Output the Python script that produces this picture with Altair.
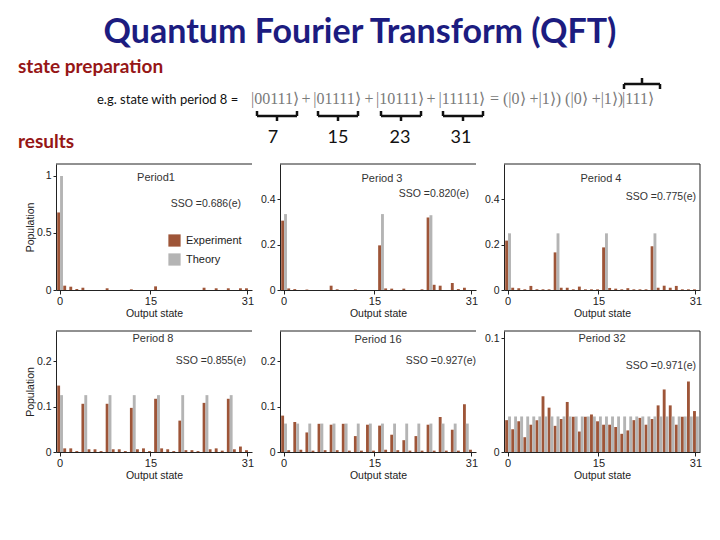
import altair as alt
import pandas as pd

# ---------------- data ----------------
STATES = list(range(32))
SERIES = ["Experiment", "Theory"]

P1_EXP = [0.68, 0.038, 0.029, 0.009, 0.02, 0, 0, 0, 0.015, 0, 0, 0, 0.006, 0, 0, 0,
          0.032, 0, 0, 0, 0, 0, 0, 0, 0.02, 0, 0.015, 0, 0.015, 0, 0.015, 0.015]
P1_TH = [1.0, 0, 0, 0, 0, 0, 0, 0, 0, 0, 0, 0, 0, 0, 0, 0,
         0, 0, 0, 0, 0, 0, 0, 0, 0, 0, 0, 0, 0, 0, 0, 0]

P3_EXP = [0.306, 0.007, 0.004, 0, 0.002, 0, 0, 0, 0.019, 0.003, 0, 0, 0.003, 0, 0, 0,
          0.197, 0.007, 0.006, 0, 0.006, 0, 0, 0.003, 0.32, 0.023, 0.019, 0, 0.031, 0.004, 0.01, 0]
P3_TH = [0.335, 0, 0, 0, 0, 0, 0, 0, 0, 0, 0, 0, 0, 0, 0, 0,
         0.335, 0, 0, 0, 0, 0, 0, 0, 0.33, 0, 0, 0, 0, 0, 0, 0]

P4_EXP = [0.218, 0.01, 0.008, 0.003, 0.018, 0.003, 0.003, 0.003, 0.166, 0.01, 0.01, 0.003, 0.015, 0.003, 0.003, 0.003,
          0.188, 0.009, 0.006, 0.003, 0.008, 0.003, 0.003, 0.003, 0.193, 0.01, 0.019, 0.01, 0.018, 0.003, 0.003, 0.003]
P4_TH = [0.25, 0, 0, 0, 0, 0, 0, 0, 0.25, 0, 0, 0, 0, 0, 0, 0,
         0.25, 0, 0, 0, 0, 0, 0, 0, 0.25, 0, 0, 0, 0, 0, 0, 0]

P8_EXP = [0.146, 0.008, 0.008, 0.002, 0.106, 0.006, 0.006, 0.002, 0.106, 0.006, 0.006, 0.002, 0.097, 0.006, 0.008, 0.002,
          0.117, 0.008, 0.006, 0.002, 0.069, 0.004, 0.004, 0.002, 0.108, 0.006, 0.008, 0.003, 0.117, 0.006, 0.012, 0.004]
P8_TH = [0.125, 0, 0, 0, 0.125, 0, 0, 0, 0.125, 0, 0, 0, 0.125, 0, 0, 0,
         0.125, 0, 0, 0, 0.125, 0, 0, 0, 0.125, 0, 0, 0, 0.125, 0, 0, 0]

P16_EXP = [0.08, 0.004, 0.066, 0.005, 0.043, 0.003, 0.062, 0.004, 0.06, 0.004, 0.062, 0.003, 0.035, 0.003, 0.06, 0.003,
           0.058, 0.005, 0.038, 0.004, 0.026, 0.003, 0.035, 0.003, 0.06, 0.003, 0.077, 0.003, 0.049, 0.003, 0.105, 0.005]
P16_TH = [0.0625, 0, 0.0625, 0, 0.0625, 0, 0.0625, 0, 0.0625, 0, 0.0625, 0, 0.0625, 0, 0.0625, 0,
          0.0625, 0, 0.0625, 0, 0.0625, 0, 0.0625, 0, 0.0625, 0, 0.0625, 0, 0.0625, 0, 0.0625, 0]

P32_EXP = [0.028, 0.020, 0.027, 0.013, 0.024, 0.028, 0.049, 0.039, 0.023, 0.029, 0.044, 0.031, 0.018, 0.031, 0.033, 0.027,
           0.024, 0.024, 0.022, 0.016, 0.019, 0.028, 0.030, 0.024, 0.029, 0.041, 0.055, 0.041, 0.024, 0.031, 0.062, 0.036]
P32_TH = [0.03125, 0.03125, 0.03125, 0.03125, 0.03125, 0.03125, 0.03125, 0.03125,
          0.03125, 0.03125, 0.03125, 0.03125, 0.03125, 0.03125, 0.03125, 0.03125,
          0.03125, 0.03125, 0.03125, 0.03125, 0.03125, 0.03125, 0.03125, 0.03125,
          0.03125, 0.03125, 0.03125, 0.03125, 0.03125, 0.03125, 0.03125, 0.03125]

PERIOD_LABELS = ["Period1", "Period 3", "Period 4", "Period 8", "Period 16", "Period 32"]
SSO_LABELS = ["SSO =0.686(e)", "SSO =0.820(e)", "SSO =0.775(e)",
              "SSO =0.855(e)", "SSO =0.927(e)", "SSO =0.971(e)"]
X_TICKS = [0, 15, 31]

TITLE = "Quantum Fourier Transform (QFT)"
SECTION_LABELS = ["state preparation", "results"]
EG_LABEL = "e.g. state with period 8 ="
KETS = ["|00111⟩", "|01111⟩", "|10111⟩", "|11111⟩"]
KET_OPS = ["+", "+", "+"]
KET_REST = ["= (|0⟩ +|1⟩) (|0⟩ +|1⟩)", "|111⟩"]
STATE_NUMBERS = ["7", "15", "23", "31"]

# ---------------- styles / layout ----------------
BROWN = "#9e5538"
GRAY = "#b4b4b4"
NAVY = "#1c1c80"
DARKRED = "#961616"
INK = "#222222"
SANS = "Liberation Sans"
HEAD_FONT = "Lato"
SERIF = "Liberation Serif"
PW = 196
ROW1_H = 126
ROW2_H = 121


def panel(exp, th, period, sso, ymax, yvals, height, ytitle, legend, period_xy, sso_xy, right_border):
    df = pd.DataFrame({
        "state": STATES + STATES,
        "series": [SERIES[0]] * len(STATES) + [SERIES[1]] * len(STATES),
        "population": exp + th,
    })
    yaxis_kw = dict(values=yvals, format="~g", grid=False, domainColor=INK, tickColor=INK, tickSize=3,
                    labelFont=SANS, labelFontSize=10.5, labelColor=INK, labelPadding=2)
    if ytitle:
        yaxis_kw.update(title=ytitle, titleFont=SANS, titleFontSize=10.5, titleFontWeight="normal",
                        titleColor=INK, titlePadding=3, minExtent=18, maxExtent=18)
    else:
        yaxis_kw.update(title=None, minExtent=22, maxExtent=22)
    if legend:
        leg = alt.Legend(orient="none", legendX=160, legendY=226, title=None,
                         symbolType="square", symbolSize=150, symbolStrokeWidth=0, symbolOpacity=1,
                         labelFont=SANS, labelFontSize=11, labelColor=INK, rowPadding=6,
                         labelOffset=5, padding=0)
    else:
        leg = None
    bars = alt.Chart(df).mark_bar(opacity=1).encode(
        x=alt.X("state:O",
                scale=alt.Scale(paddingInner=0.05, paddingOuter=0.2),
                axis=alt.Axis(values=X_TICKS, labelAngle=0, title="Output state", grid=False,
                              domainColor=INK, tickColor=INK, tickSize=4,
                              labelFont=SANS, labelFontSize=11, labelColor=INK, labelPadding=1,
                              titleFont=SANS, titleFontSize=10.5, titleFontWeight="normal",
                              titleColor=INK, titlePadding=2)),
        xOffset=alt.XOffset("series:N", sort=SERIES),
        y=alt.Y("population:Q", scale=alt.Scale(domain=[0, ymax], nice=False, zero=True),
                axis=alt.Axis(**yaxis_kw)),
        color=alt.Color("series:N", sort=SERIES,
                        scale=alt.Scale(domain=SERIES, range=[BROWN, GRAY]), legend=leg),
    )
    ptxt = alt.Chart(pd.DataFrame({"t": [period]})).mark_text(
        font=SANS, fontSize=11, color="#333333", align="center", baseline="middle"
    ).encode(text="t:N", x=alt.value(period_xy[0]), y=alt.value(period_xy[1]))
    stxt = alt.Chart(pd.DataFrame({"t": [sso]})).mark_text(
        font=SANS, fontSize=10.5, color="#333333", align="right", baseline="middle"
    ).encode(text="t:N", x=alt.value(sso_xy[0]), y=alt.value(sso_xy[1]))
    top = alt.Chart(pd.DataFrame({"a": [0]})).mark_rule(color=INK, strokeWidth=1).encode(
        x=alt.value(0), x2=alt.value(PW), y=alt.value(0))
    layers = [bars, ptxt, stxt, top]
    if right_border:
        layers.append(alt.Chart(pd.DataFrame({"a": [0]})).mark_rule(color=INK, strokeWidth=1).encode(
            x=alt.value(PW), y=alt.value(0), y2=alt.value(height)))
    return alt.layer(*layers).properties(width=PW, height=height)


def spacer(h):
    return alt.Chart(pd.DataFrame({"a": [0]})).mark_point(opacity=0, size=1).encode(
        x=alt.value(6), y=alt.value(h / 2)).properties(width=13, height=h)


p1 = panel(P1_EXP, P1_TH, PERIOD_LABELS[0], SSO_LABELS[0], 1.105, [0, 0.5, 1], ROW1_H, "Population", True,
           (100, 14), (185, 40), False)
p2 = panel(P3_EXP, P3_TH, PERIOD_LABELS[1], SSO_LABELS[1], 0.556, [0, 0.2, 0.4], ROW1_H, None, False,
           (102, 15), (189, 30), False)
p3 = panel(P4_EXP, P4_TH, PERIOD_LABELS[2], SSO_LABELS[2], 0.556, [0, 0.2, 0.4], ROW1_H, None, False,
           (97, 15), (192, 33), True)
p4 = panel(P8_EXP, P8_TH, PERIOD_LABELS[3], SSO_LABELS[3], 0.266, [0, 0.1, 0.2], ROW2_H, "Population", False,
           (97, 8), (190, 30), False)
p5 = panel(P16_EXP, P16_TH, PERIOD_LABELS[4], SSO_LABELS[4], 0.266, [0, 0.1, 0.2], ROW2_H, None, False,
           (98, 9), (196, 30), False)
p6 = panel(P32_EXP, P32_TH, PERIOD_LABELS[5], SSO_LABELS[5], 0.1064, [0, 0.1], ROW2_H, None, False,
           (98, 8), (192, 35), True)

row1 = alt.hconcat(spacer(ROW1_H), p1, p2, p3, spacing=4)
row2 = alt.hconcat(spacer(ROW2_H), p4, p5, p6, spacing=4)

# ---------------- header (annotation positions in header pixels) ----------------
HW, HH = 704, 141


def texts(labels, xs, ys, **style):
    df = pd.DataFrame({"t": labels, "x": xs, "y": ys})
    return alt.Chart(df).mark_text(**style).encode(
        text="t:N", x=alt.X("x:Q", scale=None), y=alt.Y("y:Q", scale=None))


title_l = texts([TITLE], [352], [25], font=HEAD_FONT, fontSize=34, fontWeight="bold", color=NAVY,
                align="center", baseline="middle")
sect_l = texts(SECTION_LABELS, [10, 10], [59, 134], font=HEAD_FONT, fontSize=19, fontWeight="bold",
               color=DARKRED, align="left", baseline="middle")
eg_l = texts([EG_LABEL], [89], [92], font=HEAD_FONT, fontSize=13, color="#111111",
             align="left", baseline="middle")
ket_l = texts(KETS, [267, 329, 392, 454], [91, 91, 91, 91], font=SERIF, fontSize=16, color="#7a7a7a",
              align="center", baseline="middle")
op_l = texts(KET_OPS, [298, 361, 423], [91, 91, 91], font=SERIF, fontSize=16, color="#7a7a7a",
             align="center", baseline="middle")
rest_l = texts(KET_REST, [482, 614], [91, 91], font=SERIF, fontSize=16, color="#7a7a7a",
               align="left", baseline="middle")
num_l = texts(STATE_NUMBERS, [265, 330, 392, 453], [130, 130, 130, 130], font=HEAD_FONT, fontSize=18,
              color="#111111", align="center", baseline="middle")

UNDER_SPANS = [(249, 289), (310, 350), (373, 413), (435, 475)]
UNDER_Y = 108
OVER_SPAN = (616, 652)
OVER_Y = 76
seg = {"x": [], "x2": [], "y": [], "y2": []}


def add(x, x2, y, y2):
    seg["x"].append(x); seg["x2"].append(x2); seg["y"].append(y); seg["y2"].append(y2)


for a, b in UNDER_SPANS:
    m = (a + b) / 2
    add(a, b, UNDER_Y, UNDER_Y)
    add(a, a, UNDER_Y - 5, UNDER_Y)
    add(b, b, UNDER_Y - 5, UNDER_Y)
    add(m, m, UNDER_Y, UNDER_Y + 5)
a, b = OVER_SPAN
m = (a + b) / 2
add(a, b, OVER_Y, OVER_Y)
add(a, a, OVER_Y, OVER_Y + 5)
add(b, b, OVER_Y, OVER_Y + 5)
add(m, m, OVER_Y - 6, OVER_Y)

brace_l = alt.Chart(pd.DataFrame(seg)).mark_rule(color="#111111", strokeWidth=2.5).encode(
    x=alt.X("x:Q", scale=None), x2="x2:Q", y=alt.Y("y:Q", scale=None), y2="y2:Q")

header = alt.layer(title_l, sect_l, eg_l, ket_l, op_l, rest_l, num_l, brace_l).properties(width=HW, height=HH)

chart = alt.vconcat(header, row1, row2, spacing=11).properties(padding=0).configure_view(stroke=None)

chart.save("out.html", embed_options={"renderer": "svg", "actions": False})
